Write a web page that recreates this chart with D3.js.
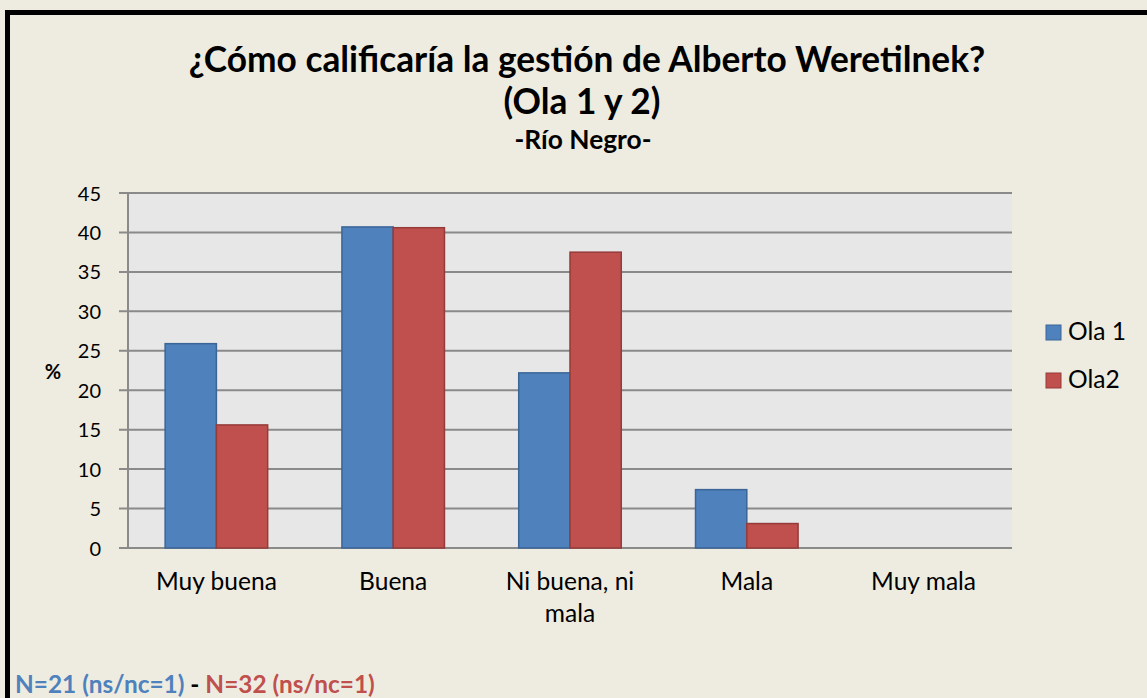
<!DOCTYPE html>
<html>
<head>
<meta charset="utf-8">
<script src="https://cdn.jsdelivr.net/npm/d3@7"></script>
<style>
  body { margin: 0; background: #fff; }
  svg { display: block; font-family: Lato, "Open Sans", sans-serif; }
</style>
</head>
<body>
<script>
// datos
const categories = [["Muy buena"], ["Buena"], ["Ni buena, ni", "mala"], ["Mala"], ["Muy mala"]]
const ola1 = [25.9, 40.7, 22.2, 7.4, 0]
const ola2 = [15.6, 40.6, 37.5, 3.1, 0]
const seriesNames = ["Ola 1", "Ola2"]
const yTicks = [0, 5, 10, 15, 20, 25, 30, 35, 40, 45]

const W = 1147, H = 698
const blue = "#4F81BD", red = "#C0504D"
const colors = [blue, red]
const strokes = ["#3B6597", "#953B39"]

const svg = d3.select("body").append("svg")
  .attr("width", W)
  .attr("height", H)

svg.append("rect").attr("width", W).attr("height", H).attr("fill", "#EEECE1")
// marco negro
svg.append("rect")
  .attr("x", 7.5).attr("y", 12.5)
  .attr("width", W + 20).attr("height", H + 20)
  .attr("fill", "none").attr("stroke", "#000").attr("stroke-width", 5)

// ajusta el tamaño de letra para llegar a un ancho dado
function fitSize(txt, weight, target) {
  const t = svg.append("text").attr("font-size", 20).attr("font-weight", weight).text(txt)
  const w = t.node().getComputedTextLength()
  t.remove()
  return 20 * target / w
}
const fsTick = 20
const fsCat = fitSize("Muy buena", "normal", 121)
const fsTitle = fitSize("¿Cómo calificaría la gestión de Alberto Weretilnek?", "bold", 797)
const fsSub = fitSize("-Río Negro-", "bold", 137)
const fsFoot = fitSize("N=21 (ns/nc=1) - N=32 (ns/nc=1)", "bold", 360)

const plot = { x0: 128, x1: 1012, y0: 193, y1: 548 }

const x = d3.scaleBand()
  .domain(d3.range(categories.length))
  .range([plot.x0, plot.x1])

const y = d3.scaleLinear()
  .domain([0, 45])
  .range([plot.y1, plot.y0])

svg.append("rect")
  .attr("x", plot.x0).attr("y", plot.y0)
  .attr("width", plot.x1 - plot.x0).attr("height", plot.y1 - plot.y0)
  .attr("fill", "#E7E7E7")

// lineas de grilla + ticks
svg.append("g").selectAll("line")
  .data(yTicks)
  .enter().append("line")
  .attr("x1", plot.x0 - 9).attr("x2", plot.x1)
  .attr("y1", d => y(d)).attr("y2", d => y(d))
  .attr("stroke", "#8A8A8A").attr("stroke-width", 2)

svg.append("line")
  .attr("x1", plot.x0).attr("x2", plot.x0)
  .attr("y1", plot.y0).attr("y2", plot.y1)
  .attr("stroke", "#8A8A8A").attr("stroke-width", 2)

svg.append("g").selectAll("text")
  .data(yTicks)
  .enter().append("text")
  .attr("x", 101).attr("y", d => y(d) + 7.5)
  .attr("text-anchor", "end")
  .attr("font-size", fsTick)
  .text(d => d)

svg.append("text")
  .attr("x", 53).attr("y", 379)
  .attr("text-anchor", "middle")
  .attr("font-size", 20).attr("font-weight", "bold")
  .text("%")

// barras
const barW = x.bandwidth() * 0.29
const series = [ola1, ola2]
series.forEach((vals, s) => {
  svg.append("g").selectAll("rect")
    .data(vals)
    .enter().append("rect")
    .attr("x", (d, i) => x(i) + x.bandwidth() / 2 - barW + s * barW)
    .attr("y", d => y(d))
    .attr("width", barW)
    .attr("height", d => y(0) - y(d))
    .attr("fill", colors[s])
    .attr("stroke", strokes[s])
    .attr("stroke-width", d => d > 0 ? 1.5 : 0)
})

// etiquetas del eje x
const xl = svg.append("g").selectAll("text")
  .data(categories)
  .enter().append("text")
  .attr("text-anchor", "middle")
  .attr("font-size", fsCat)
  .attr("x", (d, i) => x(i) + x.bandwidth() / 2)
  .attr("y", 590)
xl.selectAll("tspan")
  .data(d => d)
  .enter().append("tspan")
  .attr("x", function () { return this.parentNode.getAttribute("x") })
  .attr("dy", (d, i) => i === 0 ? 0 : 32)
  .text(d => d)

// leyenda
const leg = svg.append("g").selectAll("g")
  .data(seriesNames)
  .enter().append("g")
  .attr("transform", (d, i) => "translate(1046," + (325 + i * 48) + ")")
leg.append("rect")
  .attr("width", 15).attr("height", 15)
  .attr("fill", (d, i) => colors[i])
  .attr("stroke", (d, i) => strokes[i]).attr("stroke-width", 1)
leg.append("text")
  .attr("x", 22).attr("y", 15)
  .attr("font-size", fsCat)
  .text(d => d)

// titulo
svg.append("text")
  .attr("x", 587).attr("y", 72)
  .attr("text-anchor", "middle").attr("font-weight", "bold").attr("font-size", fsTitle)
  .text("¿Cómo calificaría la gestión de Alberto Weretilnek?")
svg.append("text")
  .attr("x", 582).attr("y", 114)
  .attr("text-anchor", "middle").attr("font-weight", "bold").attr("font-size", fsTitle)
  .text("(Ola 1 y 2)")
svg.append("text")
  .attr("x", 583).attr("y", 149)
  .attr("text-anchor", "middle").attr("font-weight", "bold").attr("font-size", fsSub)
  .text("-Río Negro-")

// pie
const foot = svg.append("text")
  .attr("x", 15).attr("y", 693)
  .attr("font-weight", "bold").attr("font-size", fsFoot)
foot.append("tspan").attr("fill", blue).text("N=21 (ns/nc=1)")
foot.append("tspan").attr("fill", "#000").text(" - ")
foot.append("tspan").attr("fill", red).text("N=32 (ns/nc=1)")
</script>
</body>
</html>
